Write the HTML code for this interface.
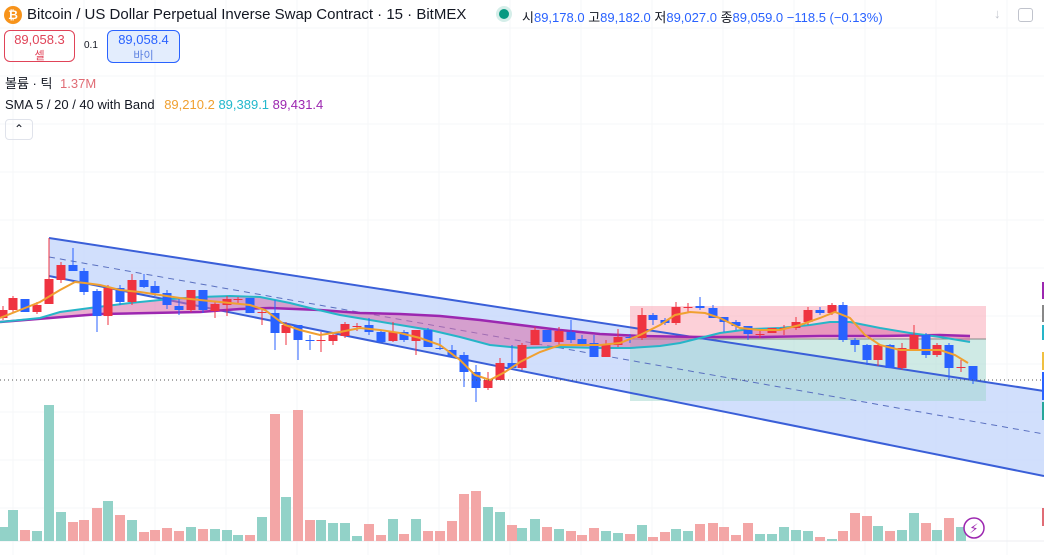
<!DOCTYPE html>
<html><head><meta charset="utf-8"><style>
body{margin:0;width:1044px;height:555px;overflow:hidden;background:#fff;font-family:"Liberation Sans","Noto Sans CJK KR",sans-serif;}
#c{position:absolute;left:0;top:0}
.t{position:absolute;white-space:nowrap;color:#131722}
</style></head><body>
<svg id="c" width="1044" height="555" xmlns="http://www.w3.org/2000/svg"></svg>
<div class="t" style="left:4px;top:6px;width:18px;height:18px;border-radius:50%;background:#f7931a;color:#fff;font-size:12px;text-align:center;line-height:18px;font-weight:bold">₿</div>
<div class="t" style="left:27px;top:6px;font-size:15px">Bitcoin / US Dollar Perpetual Inverse Swap Contract · 15 · BitMEX</div>
<div class="t" style="left:499px;top:9px;width:10px;height:10px;border-radius:50%;background:#089981;box-shadow:0 0 0 3px #d5eee9"></div>
<div class="t" style="left:522px;top:7px;font-size:13px">시<span style="color:#2962ff">89,178.0</span> 고<span style="color:#2962ff">89,182.0</span> 저<span style="color:#2962ff">89,027.0</span> 종<span style="color:#2962ff">89,059.0</span> <span style="color:#2962ff">−118.5 (−0.13%)</span></div>
<div class="t" style="left:994px;top:6px;font-size:13px;color:#c0c3cc">↓</div>
<div class="t" style="left:1018px;top:8px;width:13px;height:12px;border:1px solid #c0c3cc;border-radius:3px"></div>
<div class="t" style="left:4px;top:30px;width:71px;height:32px;border:1px solid #e04358;border-radius:6px;text-align:center;color:#e04358;font-size:13px;line-height:15px;padding-top:1px;box-sizing:border-box">89,058.3<br><span style="font-size:11px">셀</span></div>
<div class="t" style="left:84px;top:40px;font-size:10px">0.1</div>
<div class="t" style="left:107px;top:30px;width:73px;height:33px;border:1px solid #2962ff;background:#e3edfd;border-radius:6px;text-align:center;color:#2962ff;font-size:13px;line-height:15px;padding-top:1px;box-sizing:border-box">89,058.4<br><span style="font-size:11px;color:#5a7fe0">바이</span></div>
<div class="t" style="left:5px;top:73px;font-size:13px">볼륨 · 틱 <span style="color:#e06c75;margin-left:4px">1.37M</span></div>
<div class="t" style="left:5px;top:97px;font-size:13px">SMA 5 / 20 / 40 with Band <span style="color:#f0a030;margin-left:6px">89,210.2</span> <span style="color:#22b8cc">89,389.1</span> <span style="color:#9c27b0">89,431.4</span></div>
<div class="t" style="left:5px;top:119px;width:26px;height:19px;border:1px solid #e0e3eb;border-radius:4px;text-align:center;font-size:12px;line-height:19px">⌃</div>
<script>
const s=document.getElementById('c');let h='';
for(let x=13;x<1044;x+=71)h+=`<line x1="${x}" y1="0" x2="${x}" y2="555" stroke="#f6f7f9"/>`;
for(let y=28;y<545;y+=48)h+=`<line x1="0" y1="${y}" x2="1044" y2="${y}" stroke="#f6f7f9"/>`;
h+=`<line x1="0" y1="541" x2="1044" y2="541" stroke="#eceef2"/>`;
h+=`<polygon points="49,238 1044,391 1044,476 49,276" fill="#c9d9fb" opacity="0.85"/>`;
h+=`<rect x="630" y="306" width="356" height="33" fill="#f9aab8" opacity="0.55"/>`;
h+=`<rect x="630" y="339" width="356" height="62" fill="#9fd6cc" opacity="0.5"/>`;
h+=`<line x1="630" y1="339" x2="986" y2="339" stroke="#888" stroke-width="1"/>`;
h+=`<line x1="49" y1="238" x2="1044" y2="391" stroke="#3a5fd8" stroke-width="2"/>`;
h+=`<line x1="49" y1="276" x2="1044" y2="476" stroke="#3a5fd8" stroke-width="2"/>`;
h+=`<line x1="49" y1="257" x2="1044" y2="434" stroke="#5a70c0" stroke-width="1" stroke-dasharray="6,5"/>`;
const teal=[[0,322],[40,318],[60,312],[90,308],[130,303],[170,299],[200,297],[230,296],[260,297],[290,303],[310,308],[340,315],[370,320],[400,325],[430,330],[460,337],[490,345],[520,348],[560,347],[600,348],[630,348],[660,346],[680,343],[700,338],[720,333],[750,329],[780,328],[810,325],[830,322],[850,322],[880,328],[910,333],[940,337],[970,342]];
const pur=[[0,322],[50,318],[100,314],[150,313],[200,312],[240,309],[270,308],[320,310],[360,313],[400,314],[440,316],[480,320],[520,325],[560,330],[600,334],[640,336],[700,337],[760,337],[820,336],[880,336],[940,335],[970,336]];
const org=[[0,318],[20,310],[40,302],[60,290],[75,282],[85,283],[100,285],[120,290],[140,292],[160,295],[180,298],[200,300],[220,302],[250,305],[265,310],[285,325],[300,330],[320,335],[340,332],[360,328],[380,330],[400,333],[420,338],[440,345],[460,360],[475,375],[490,380],[505,372],[520,362],[540,352],[560,345],[600,345],[620,343],[640,335],[660,325],[675,315],[690,312],[705,313],[720,318],[740,328],[760,330],[780,330],[800,325],[820,318],[835,312],[850,318],[865,335],[880,345],[900,350],[940,350],[955,355],[968,363]];
const P=a=>a.map(p=>p.join(',')).join(' ');
h+=`<polygon points="${P(teal)} ${P(pur.slice().reverse())}" fill="#d96aa8" opacity="0.55"/>`;
h+=`<polyline points="${P(pur)}" fill="none" stroke="#9c27b0" stroke-width="2.5"/>`;
h+=`<polyline points="${P(teal)}" fill="none" stroke="#26b5c8" stroke-width="2"/>`;
const C=[[3,'r',310,318,306,320],[13,'r',298,310,296,312],[25,'b',299,312,299,312],[37,'r',305,312,302,314],[49,'r',279,304,238,304],[61,'r',265,280,262,283],[73,'b',265,271,248,271],[84,'b',271,292,268,295],[97,'b',291,316,289,332],[108,'r',288,316,285,325],[120,'b',288,302,285,305],[132,'r',280,302,274,305],[144,'b',280,287,274,288],[155,'b',286,293,281,296],[167,'b',293,305,290,309],[179,'b',306,310,299,315],[191,'r',290,310,290,312],[203,'b',290,310,290,313],[215,'r',304,311,302,318],[227,'r',299,305,296,316],[238,'r',299,300,297,304],[250,'b',298,313,298,313],[262,'r',312,313,310,325],[275,'b',313,333,300,350],[286,'r',325,333,322,345],[298,'b',325,340,325,360],[310,'b',340,341,335,350],[321,'r',340,341,332,352],[333,'r',335,341,333,345],[345,'r',324,336,322,338],[357,'r',326,327,323,331],[369,'b',325,332,318,335],[381,'b',332,342,330,342],[393,'r',332,341,322,342],[404,'b',332,340,330,342],[416,'r',330,341,330,355],[428,'b',330,347,328,347],[440,'b',348,349,338,350],[452,'b',350,356,345,358],[464,'b',355,372,352,387],[476,'b',372,388,365,402],[488,'r',380,388,372,390],[500,'r',363,380,358,380],[512,'b',363,368,345,368],[522,'r',345,368,343,370],[535,'r',330,345,327,345],[547,'b',330,342,330,342],[559,'r',331,342,327,345],[571,'b',332,340,320,343],[582,'b',339,344,335,345],[594,'b',343,357,335,357],[606,'r',344,357,340,357],[618,'r',337,345,329,347],[630,'b',337,338,334,343],[642,'r',315,338,308,340],[653,'b',315,320,313,325],[665,'b',320,323,318,325],[676,'r',307,323,302,325],[688,'r',307,308,303,312],[700,'b',306,308,297,310],[713,'b',308,318,305,318],[724,'b',317,322,317,332],[736,'b',322,326,320,330],[748,'b',326,334,326,340],[760,'r',334,335,330,338],[772,'r',328,333,328,333],[784,'r',328,329,325,335],[796,'r',322,328,317,330],[808,'r',310,322,307,325],[820,'b',310,313,307,315],[832,'r',305,313,303,315],[843,'b',305,340,302,342],[855,'b',340,345,338,352],[867,'b',345,360,344,365],[878,'r',345,360,343,366],[890,'b',345,368,344,368],[902,'r',348,368,343,370],[914,'r',335,350,325,350],[926,'b',335,355,333,358],[937,'r',345,355,343,357],[949,'b',345,368,343,380],[961,'r',367,368,360,372],[973,'b',366,380,366,384]];
const V=[[3,'g',527],[13,'g',510],[25,'r',530],[37,'g',531],[49,'g',405],[61,'g',512],[73,'r',522],[84,'r',520],[97,'r',508],[108,'g',501],[120,'r',515],[132,'g',520],[144,'r',532],[155,'r',530],[167,'r',528],[179,'r',531],[191,'g',527],[203,'r',529],[215,'g',529],[227,'g',530],[238,'g',535],[250,'r',535],[262,'g',517],[275,'r',414],[286,'g',497],[298,'r',410],[310,'r',520],[321,'g',520],[333,'g',523],[345,'g',523],[357,'g',536],[369,'r',524],[381,'r',535],[393,'g',519],[404,'r',534],[416,'g',519],[428,'r',531],[440,'r',531],[452,'r',521],[464,'r',494],[476,'r',491],[488,'g',507],[500,'g',512],[512,'r',525],[522,'g',528],[535,'g',519],[547,'r',527],[559,'g',529],[571,'r',531],[582,'r',535],[594,'r',528],[606,'g',531],[618,'g',533],[630,'r',534],[642,'g',525],[653,'r',537],[665,'r',532],[676,'g',529],[688,'g',531],[700,'r',524],[713,'r',523],[724,'r',527],[736,'r',535],[748,'r',523],[760,'g',534],[772,'g',534],[784,'g',527],[796,'g',530],[808,'g',531],[820,'r',537],[832,'g',539],[843,'r',531],[855,'r',513],[867,'r',516],[878,'g',526],[890,'r',531],[902,'g',530],[914,'g',513],[926,'r',523],[937,'g',530],[949,'r',518],[961,'g',527]];
V.forEach(v=>{h+=`<rect x="${v[0]-5}" y="${v[2]}" width="10" height="${541-v[2]}" fill="${v[1]=='g'?'#92d2c8':'#f3a6a6'}"/>`;});
C.forEach(c=>{const col=c[1]=='r'?'#ef3340':'#2962ff';h+=`<line x1="${c[0]}" y1="${c[4]}" x2="${c[0]}" y2="${c[5]}" stroke="${col}" stroke-width="1"/>`;const bh=Math.max(1,c[3]-c[2]);h+=`<rect x="${c[0]-4.5}" y="${c[2]}" width="9" height="${bh}" fill="${col}"/>`;});
h+=`<polyline points="${P(org)}" fill="none" stroke="#f0a030" stroke-width="2"/>`;
h+=`<line x1="0" y1="380" x2="1044" y2="380" stroke="#555" stroke-width="1" stroke-dasharray="1,3"/>`;
h+=`<circle cx="974" cy="528" r="10" fill="#fff" stroke="#9c27b0" stroke-width="1.5"/><text x="974" y="533" font-size="13" fill="#9c27b0" text-anchor="middle" font-family="DejaVu Sans">⚡</text>`;
[[282,17,'#9c27b0'],[305,17,'#888'],[325,15,'#26b5c8'],[352,18,'#f0c040'],[372,28,'#2962ff'],[402,18,'#26a69a'],[508,18,'#e06c75']].forEach(m=>{h+=`<rect x="1042" y="${m[0]}" width="2" height="${m[1]}" fill="${m[2]}"/>`;});
s.innerHTML=h;
</script>
</body></html>
